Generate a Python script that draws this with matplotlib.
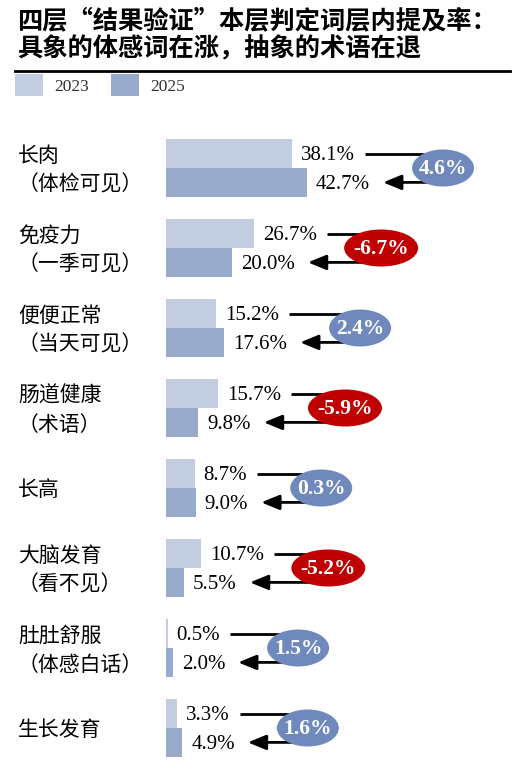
import numpy as np
import matplotlib
matplotlib.use("Agg")
import matplotlib.pyplot as plt
from matplotlib.patches import Ellipse, Rectangle
from matplotlib.transforms import blended_transform_factory

plt.rcParams["font.family"] = ["Noto Sans CJK SC", "DejaVu Sans"]

# data
cats_top = ["长肉", "免疫力", "便便正常", "肠道健康", "长高", "大脑发育", "肚肚舒服", "生长发育"]
cats_sub = ["（体检可见）", "（一季可见）", "（当天可见）", "（术语）", "", "（看不见）", "（体感白话）", ""]
v2023 = [38.1, 26.7, 15.2, 15.7, 8.7, 10.7, 0.5, 3.3]
v2025 = [42.7, 20.0, 17.6, 9.8, 9.0, 5.5, 2.0, 4.9]
years = ["2023", "2025"]

c23 = "#c3cde1"
c25 = "#99abcc"
c_up = "#6f89bd"
c_dn = "#c00000"
SERIF = "Liberation Serif"

W_PX, H_PX = 522, 780
fig = plt.figure(figsize=(W_PX / 100, H_PX / 100), dpi=100)

# title
fig.text(17 / W_PX, 1 - 21 / H_PX, "四层“结果验证”本层判定词层内提及率：",
         fontsize=18.2, fontweight="bold", va="center", ha="left")
fig.text(17 / W_PX, 1 - 49 / H_PX, "具象的体感词在涨，抽象的术语在退",
         fontsize=18.2, fontweight="bold", va="center", ha="left")
fig.add_artist(plt.Line2D([15 / W_PX, 510 / W_PX], [1 - 71 / H_PX] * 2,
                          color="black", lw=2))

# legend
for x0, col, lab in [(15, c23, years[0]), (111, c25, years[1])]:
    fig.add_artist(Rectangle((x0 / W_PX, 1 - 96 / H_PX), 28 / W_PX, 22 / H_PX,
                             transform=fig.transFigure, color=col, lw=0))
    fig.text((x0 + 39) / W_PX, 1 - 87 / H_PX, lab, fontsize=12.5, family=SERIF,
             va="center", ha="left", color="#333333")

# main axes: x=0 at px 166, 3.3 px per %
PX_PER = 3.3
ax = fig.add_axes([166 / W_PX, 1 - 768 / H_PX, (W_PX - 166) / W_PX, 640 / H_PX])
ax.set_xlim(0, (W_PX - 166) / PX_PER)
ax.set_ylim(7.5, -0.5)
ax.axis("off")

n = len(v2023)
y = np.arange(n)
BH = 0.36
ax.barh(y - BH / 2, v2023, height=BH, color=c23, lw=0)
ax.barh(y + BH / 2, v2025, height=BH, color=c25, lw=0)

lab_tr = blended_transform_factory(fig.transFigure, ax.transData)
for i in range(n):
    if cats_sub[i]:
        ax.text(18 / W_PX, i - 0.15, cats_top[i], transform=lab_tr, fontsize=15,
                va="center", ha="left")
        ax.text(18 / W_PX, i + 0.21, cats_sub[i], transform=lab_tr, fontsize=15,
                va="center", ha="left")
    else:
        ax.text(18 / W_PX, i + 0.02, cats_top[i], transform=lab_tr, fontsize=15,
                va="center", ha="left")

t23, t25 = [], []
for i in range(n):
    t23.append(ax.annotate(f"{v2023[i]:.1f}%", (v2023[i], i - BH / 2), xytext=(6.5, -1.5),
                           textcoords="offset points", va="center", ha="left",
                           fontsize=15, family=SERIF))
    t25.append(ax.annotate(f"{v2025[i]:.1f}%", (v2025[i], i + BH / 2), xytext=(6.5, -1.5),
                           textcoords="offset points", va="center", ha="left",
                           fontsize=15, family=SERIF))

fig.canvas.draw()
inv = ax.transData.inverted()

for i in range(n):
    d = v2025[i] - v2023[i]
    e23 = t23[i].get_window_extent()
    e25 = t25[i].get_window_extent()
    x_end = max(e23.x1, e25.x1)
    cx = inv.transform((x_end + (73 if d >= 0 else 64), 0))[0]
    x_start = inv.transform((e23.x1 + 10, 0))[0]
    x_tip = inv.transform((e25.x1 + 13, 0))[0]
    ax.plot([x_start, cx], [i - BH / 2] * 2, color="black", lw=2, zorder=3,
            solid_capstyle="butt")
    ax.annotate("", xy=(x_tip, i + BH / 2), xytext=(cx, i + BH / 2),
                arrowprops=dict(arrowstyle="-|>,head_length=1.1,head_width=0.45",
                                mutation_scale=10, lw=2, color="black",
                                shrinkA=0, shrinkB=0), zorder=3)
    label = f"{d:.1f}%"
    wpx = 62 if d >= 0 else 74
    ax.add_patch(Ellipse((cx, i), wpx / PX_PER, 37 / 80, color=c_up if d >= 0 else c_dn,
                         lw=0, zorder=5))
    ax.annotate(label, (cx, i), xytext=(0, -1), textcoords="offset points",
                ha="center", va="center", color="white", fontsize=15.5,
                fontweight="bold", family=SERIF, zorder=6)

fig.savefig("out.png", dpi=100)
